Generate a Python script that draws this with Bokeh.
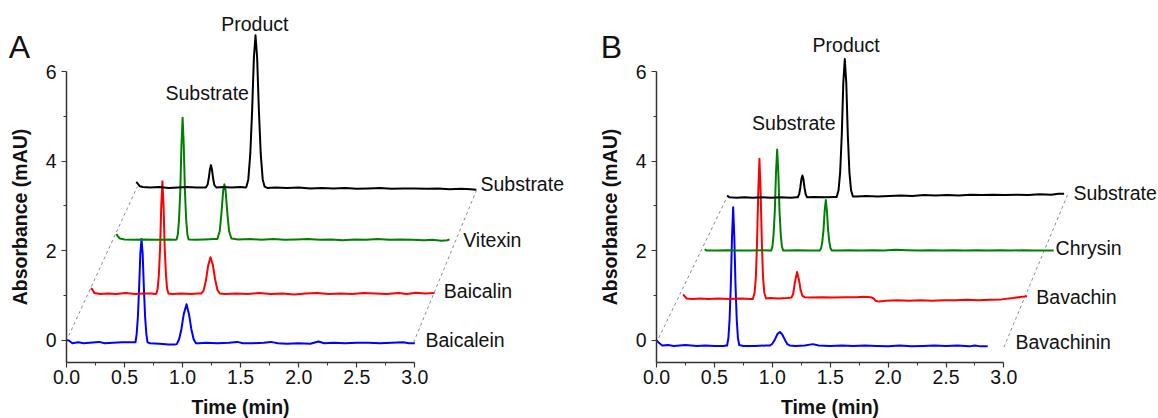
import numpy as np
from bokeh.plotting import figure
from bokeh.layouts import row
from bokeh.models import Range1d, FixedTicker, NumeralTickFormatter
from bokeh.core.properties import value
from bokeh.embed import file_html
from bokeh.resources import INLINE

# ---------------- data (time in min, absorbance in mAU) ----------------
X_TICKS = [0.0, 0.5, 1.0, 1.5, 2.0, 2.5, 3.0]
X_MINOR = [0.25, 0.75, 1.25, 1.75, 2.25, 2.75]
Y_TICKS = [0, 2, 4, 6]
Y_MINOR = [1, 3, 5]

A_NAMES = ["Baicalein", "Baicalin", "Vitexin", "Substrate"]
B_NAMES = ["Bavachinin", "Bavachin", "Chrysin", "Substrate"]

A_BAICALEIN = [(0.00, 0.00), (0.02, -0.01), (0.05, -0.07), (0.10, -0.05), (0.15, -0.07), (0.20, -0.06),
               (0.28, -0.04), (0.33, -0.07), (0.40, -0.06), (0.48, -0.05), (0.56, -0.05),
               (0.594, -0.05), (0.604, 0.13), (0.615, 0.52), (0.626, 1.20), (0.636, 1.93), (0.646, 2.26),
               (0.656, 1.93), (0.666, 1.20), (0.677, 0.52), (0.688, 0.13), (0.698, -0.05),
               (0.72, -0.07), (0.80, -0.08), (0.88, -0.10), (0.93, -0.10),
               (0.95, -0.09), (0.97, 0.02), (0.99, 0.25), (1.01, 0.58), (1.034, 0.80), (1.055, 0.58),
               (1.075, 0.25), (1.095, 0.02), (1.115, -0.07),
               (1.14, -0.07), (1.20, -0.06), (1.30, -0.07), (1.40, -0.06), (1.47, -0.04), (1.52, -0.07),
               (1.60, -0.07), (1.70, -0.06), (1.76, -0.04), (1.82, -0.07), (1.90, -0.08), (2.00, -0.07),
               (2.10, -0.08), (2.17, -0.03), (2.22, -0.07), (2.30, -0.06), (2.40, -0.07), (2.50, -0.06),
               (2.60, -0.06), (2.70, -0.07), (2.80, -0.06), (2.90, -0.05), (2.95, -0.07), (3.00, -0.07)]

A_BAICALIN = [(0.00, 0.12), (0.01, 0.10), (0.03, 0.01), (0.08, -0.01), (0.15, 0.00), (0.22, -0.01),
              (0.30, 0.01), (0.38, -0.01), (0.45, 0.00), (0.52, 0.00), (0.555, -0.01),
              (0.564, 0.00), (0.575, 0.10), (0.585, 0.40), (0.596, 1.00), (0.606, 1.95), (0.616, 2.51),
              (0.626, 1.95), (0.636, 1.00), (0.647, 0.40), (0.657, 0.10), (0.668, 0.00),
              (0.70, -0.01), (0.78, 0.00), (0.86, -0.01), (0.92, 0.00),
              (0.95, 0.00), (0.97, 0.06), (0.99, 0.28), (1.01, 0.62), (1.03, 0.81), (1.05, 0.65),
              (1.07, 0.32), (1.09, 0.08), (1.11, 0.00),
              (1.16, -0.01), (1.25, 0.00), (1.35, -0.01), (1.45, 0.01), (1.55, -0.01), (1.65, 0.00),
              (1.75, -0.02), (1.85, 0.00), (1.95, 0.01), (2.05, -0.01), (2.15, 0.00), (2.25, -0.01),
              (2.35, 0.01), (2.45, 0.00), (2.55, -0.01), (2.65, 0.01), (2.72, -0.01), (2.80, 0.02),
              (2.88, 0.00), (2.96, 0.01)]

A_VITEXIN = [(0.00, 0.12), (0.01, 0.08), (0.03, 0.02), (0.07, 0.00), (0.15, -0.01), (0.25, 0.00),
             (0.35, -0.01), (0.45, 0.00), (0.50, -0.01),
             (0.518, 0.00), (0.529, 0.11), (0.539, 0.43), (0.55, 1.08), (0.56, 2.10), (0.57, 2.72),
             (0.58, 2.10), (0.59, 1.08), (0.601, 0.43), (0.611, 0.11), (0.622, 0.00),
             (0.68, -0.01), (0.76, 0.00), (0.84, 0.01),
             (0.87, 0.01), (0.89, 0.19), (0.905, 0.60), (0.92, 1.10), (0.93, 1.23), (0.94, 1.10),
             (0.955, 0.60), (0.97, 0.19), (0.99, 0.02),
             (1.05, 0.00), (1.15, 0.01), (1.25, -0.01), (1.35, 0.01), (1.45, -0.01), (1.55, 0.00),
             (1.65, 0.01), (1.75, -0.01), (1.85, 0.00), (1.95, -0.02), (2.05, 0.00), (2.15, -0.01),
             (2.25, 0.01), (2.35, -0.01), (2.45, 0.00), (2.55, -0.01), (2.65, -0.02), (2.72, -0.01),
             (2.80, -0.03), (2.85, -0.02), (2.87, 0.00)]

A_SUBSTRATE = [(0.00, 0.12), (0.01, 0.10), (0.03, 0.03), (0.06, 0.01), (0.12, 0.00), (0.20, 0.01),
               (0.28, -0.01), (0.36, 0.00), (0.44, 0.01), (0.52, 0.00), (0.59, 0.00),
               (0.60, 0.00), (0.615, 0.06), (0.625, 0.20), (0.635, 0.40), (0.644, 0.50), (0.653, 0.40),
               (0.663, 0.20), (0.673, 0.06), (0.69, 0.00),
               (0.75, 0.01), (0.82, 0.00), (0.90, 0.01), (0.945, 0.00),
               (0.950, 0.02), (0.966, 0.18), (0.983, 0.75), (0.999, 1.73), (1.014, 2.90), (1.028, 3.40),
               (1.042, 2.90), (1.057, 1.73), (1.073, 0.75), (1.090, 0.18), (1.106, 0.02),
               (1.13, -0.01), (1.20, 0.00), (1.30, -0.01), (1.40, 0.00), (1.50, -0.02), (1.60, -0.01),
               (1.70, -0.02), (1.80, -0.01), (1.90, -0.03), (2.00, -0.02), (2.10, -0.01), (2.20, -0.03),
               (2.30, -0.02), (2.40, -0.02), (2.50, -0.03), (2.60, -0.02), (2.70, -0.04), (2.80, -0.03),
               (2.88, -0.04), (2.93, -0.05)]

B_BAVACHININ = [(0.00, 0.00), (0.02, -0.06), (0.05, -0.12), (0.10, -0.11), (0.15, -0.13), (0.20, -0.12),
                (0.25, -0.11), (0.30, -0.12), (0.35, -0.13), (0.42, -0.12), (0.50, -0.13), (0.58, -0.13),
                (0.60, -0.12),
                (0.61, -0.12), (0.621, 0.05), (0.631, 0.45), (0.642, 1.25), (0.652, 2.30), (0.662, 2.97),
                (0.672, 2.30), (0.682, 1.25), (0.693, 0.45), (0.703, 0.05), (0.714, -0.11),
                (0.75, -0.13), (0.85, -0.13), (0.95, -0.12),
                (0.98, -0.12), (1.00, -0.08), (1.02, 0.00), (1.045, 0.14), (1.065, 0.18), (1.085, 0.13),
                (1.11, 0.00), (1.13, -0.09), (1.15, -0.12),
                (1.20, -0.13), (1.28, -0.12), (1.35, -0.09), (1.40, -0.12), (1.50, -0.13), (1.60, -0.12),
                (1.70, -0.13), (1.80, -0.12), (1.90, -0.13), (2.00, -0.14), (2.10, -0.12), (2.20, -0.14),
                (2.30, -0.13), (2.40, -0.12), (2.50, -0.13), (2.60, -0.12), (2.70, -0.14), (2.75, -0.12),
                (2.80, -0.14), (2.86, -0.14)]

B_BAVACHIN = [(0.00, 0.10), (0.01, 0.07), (0.03, 0.01), (0.08, 0.00), (0.15, 0.01), (0.22, 0.00),
              (0.30, 0.01), (0.40, 0.00), (0.50, 0.01), (0.58, 0.00),
              (0.602, 0.00), (0.617, 0.14), (0.628, 0.48), (0.638, 1.24), (0.649, 2.40), (0.659, 3.13),
              (0.669, 2.40), (0.680, 1.24), (0.690, 0.48), (0.701, 0.14), (0.716, 0.01),
              (0.75, 0.02), (0.82, 0.01), (0.90, 0.02),
              (0.935, 0.03), (0.95, 0.11), (0.965, 0.37), (0.984, 0.60), (1.00, 0.43), (1.015, 0.19),
              (1.03, 0.07), (1.05, 0.04),
              (1.10, 0.03), (1.20, 0.04), (1.30, 0.03), (1.40, 0.04), (1.50, 0.04), (1.56, 0.05),
              (1.62, 0.04), (1.645, 0.01), (1.66, -0.04), (1.69, -0.06), (1.75, -0.04), (1.85, -0.03),
              (1.95, -0.04), (2.05, -0.03), (2.15, -0.04), (2.25, -0.03), (2.35, -0.03), (2.45, -0.02),
              (2.55, -0.03), (2.65, -0.02), (2.75, -0.01), (2.85, 0.02), (2.93, 0.05), (2.97, 0.06)]

B_CHRYSIN = [(0.00, 0.03), (0.02, 0.00), (0.10, 0.00), (0.20, 0.01), (0.30, 0.00), (0.40, 0.00),
             (0.50, 0.01), (0.56, 0.00),
             (0.575, 0.00), (0.586, 0.09), (0.596, 0.36), (0.607, 0.90), (0.617, 1.75), (0.627, 2.26),
             (0.637, 1.75), (0.647, 0.90), (0.658, 0.36), (0.668, 0.09), (0.679, 0.00),
             (0.72, 0.00), (0.80, 0.01), (0.90, 0.00), (0.98, 0.00),
             (0.995, 0.00), (1.006, 0.05), (1.016, 0.18), (1.027, 0.45), (1.037, 0.88), (1.047, 1.13),
             (1.057, 0.88), (1.067, 0.45), (1.078, 0.18), (1.088, 0.05), (1.10, 0.00),
             (1.15, 0.00), (1.25, 0.01), (1.35, 0.00), (1.45, 0.01), (1.55, 0.00), (1.65, 0.02),
             (1.75, 0.01), (1.85, 0.00), (1.95, 0.01), (2.05, 0.00), (2.15, 0.01), (2.25, 0.00),
             (2.35, 0.01), (2.45, 0.00), (2.55, 0.01), (2.65, 0.00), (2.75, 0.01), (2.85, 0.00),
             (2.95, 0.00), (3.015, 0.00)]

B_SUBSTRATE = [(0.00, 0.04), (0.02, 0.00), (0.08, -0.01), (0.15, 0.00), (0.22, -0.01), (0.30, 0.00),
               (0.38, -0.01), (0.46, 0.00), (0.55, -0.01), (0.60, 0.00),
               (0.61, 0.00), (0.622, 0.07), (0.632, 0.22), (0.642, 0.42), (0.65, 0.49), (0.658, 0.42),
               (0.668, 0.22), (0.678, 0.07), (0.69, 0.00),
               (0.75, 0.01), (0.85, 0.00), (0.93, 0.01),
               (0.946, 0.01), (0.962, 0.16), (0.976, 0.56), (0.990, 1.40), (1.003, 2.55), (1.016, 3.09),
               (1.029, 2.55), (1.042, 1.40), (1.056, 0.56), (1.070, 0.16), (1.086, 0.02),
               (1.12, 0.02), (1.20, 0.03), (1.30, 0.02), (1.40, 0.03), (1.50, 0.04), (1.60, 0.03),
               (1.70, 0.05), (1.80, 0.04), (1.90, 0.05), (2.00, 0.04), (2.10, 0.06), (2.20, 0.05),
               (2.30, 0.06), (2.40, 0.05), (2.50, 0.06), (2.60, 0.05), (2.70, 0.07), (2.80, 0.06),
               (2.86, 0.08), (2.91, 0.08)]

A_TRACES = [A_BAICALEIN, A_BAICALIN, A_VITEXIN, A_SUBSTRATE]
B_TRACES = [B_BAVACHININ, B_BAVACHIN, B_CHRYSIN, B_SUBSTRATE]

# oblique (pseudo-3D) shift of each chromatogram: (time shift, absorbance shift)
A_SHIFTS = [(0.0, 0.0), (0.21, 1.04), (0.43, 2.25), (0.60, 3.41)]
B_SHIFTS = [(0.0, 0.0), (0.23, 0.92), (0.415, 2.0), (0.61, 3.19)]

# dashed perspective guides (x list, y list)
A_GUIDES = [([0.02, 0.61], [0.10, 3.43]), ([2.99, 3.53], [-0.05, 3.34])]
B_GUIDES = [([0.02, 0.61], [0.05, 3.20]), ([3.00, 3.56], [-0.16, 3.31])]

PEAK_TEXT = ["Substrate", "Product"]

# ---------------- layout / style ----------------
FONT = "Liberation Sans"
FS = "19.5px"
COLORS = ["#0000FF", "#FF0000", "#008000", "#000000"]
HEIGHT = 418
PX_PER_Y = 44.75
Y_ZERO_FROM_TOP = 339.6      # pixel row of y=0 inside the canvas
X_AXIS_AT = -0.5

A_NAME_POS = [(3.092, 0.0), (3.25, 1.09), (3.417, 2.23), (3.566, 3.48)]
B_NAME_POS = [(3.10, -0.05), (3.28, 0.96), (3.446, 2.06), (3.60, 3.29)]
A_PEAK_POS = [(1.212, 5.52), (1.622, 7.07)]
B_PEAK_POS = [(1.186, 4.86), (1.638, 6.60)]
A_LETTER_POS = (-0.405, 6.56)
B_LETTER_POS = (-0.389, 6.54)


def panel(width, origin_px, px_per_min, letter, letter_pos, traces, shifts, names, name_pos,
          peak_pos, guides):
    x0 = -origin_px / px_per_min
    x1 = (width - origin_px) / px_per_min
    y1 = Y_ZERO_FROM_TOP / PX_PER_Y
    y0 = -(HEIGHT - Y_ZERO_FROM_TOP) / PX_PER_Y
    p = figure(width=width, height=HEIGHT, x_range=Range1d(x0, x1), y_range=Range1d(y0, y1),
               output_backend="svg", toolbar_location=None,
               min_border_left=0, min_border_right=0, min_border_top=0, min_border_bottom=0)
    p.outline_line_color = None
    p.grid.visible = False
    p.background_fill_color = "white"
    p.border_fill_color = "white"

    for ax in (p.xaxis[0], p.yaxis[0]):
        ax.axis_line_width = 1.5
        ax.axis_line_color = "#333333"
        ax.major_tick_line_color = "#333333"
        ax.minor_tick_line_color = "#333333"
        ax.major_tick_line_width = 1.2
        ax.minor_tick_line_width = 1.0
        ax.major_tick_in = 0
        ax.major_tick_out = 5
        ax.minor_tick_in = 0
        ax.minor_tick_out = 3
        ax.major_label_text_font = FONT
        ax.major_label_text_font_size = FS
        ax.major_label_text_color = "#111111"
        ax.axis_label_text_font = FONT
        ax.axis_label_text_font_size = FS
        ax.axis_label_text_font_style = "bold"
        ax.axis_label_text_color = "#111111"

    xa = p.xaxis[0]
    xa.fixed_location = X_AXIS_AT
    xa.bounds = (0, 3)
    xa.ticker = FixedTicker(ticks=X_TICKS, minor_ticks=X_MINOR)
    xa.formatter = NumeralTickFormatter(format="0.0")
    xa.axis_label = "Time (min)"
    xa.major_label_standoff = 3
    xa.axis_label_standoff = 8

    ya = p.yaxis[0]
    ya.fixed_location = 0
    ya.bounds = (-0.5, 6)
    ya.ticker = FixedTicker(ticks=Y_TICKS, minor_ticks=Y_MINOR)
    ya.axis_label = "Absorbance (mAU)"
    ya.major_label_standoff = 5
    ya.axis_label_standoff = 12

    for gx, gy in guides:
        p.line(gx, gy, line_color="#8a8a8a", line_width=1, line_dash="3 3")

    for tr, (dx, dy), c in zip(traces, shifts, COLORS):
        t = np.array([q[0] for q in tr])
        a = np.array([q[1] for q in tr])
        p.line(t + dx, a + dy, line_color=c, line_width=2.0, line_join="round")

    p.text(x=[q[0] for q in name_pos], y=[q[1] for q in name_pos], text=names,
           text_font=value(FONT), text_font_size=value(FS), text_color="#111111",
           text_align="left", text_baseline="middle")
    p.text(x=[q[0] for q in peak_pos], y=[q[1] for q in peak_pos], text=PEAK_TEXT,
           text_font=value(FONT), text_font_size=value(FS), text_color="#111111",
           text_align="center", text_baseline="middle")
    p.text(x=[letter_pos[0]], y=[letter_pos[1]], text=[letter],
           text_font=value(FONT), text_font_size=value("32px"), text_color="#111111",
           text_align="center", text_baseline="middle")
    return p


pa = panel(580, 66, 116.1, "A", A_LETTER_POS, A_TRACES, A_SHIFTS, A_NAMES, A_NAME_POS,
           A_PEAK_POS, A_GUIDES)
pb = panel(578, 76, 115.8, "B", B_LETTER_POS, B_TRACES, B_SHIFTS, B_NAMES, B_NAME_POS,
           B_PEAK_POS, B_GUIDES)

layout = row(pa, pb)
open("out.html", "w").write(file_html(layout, INLINE))
